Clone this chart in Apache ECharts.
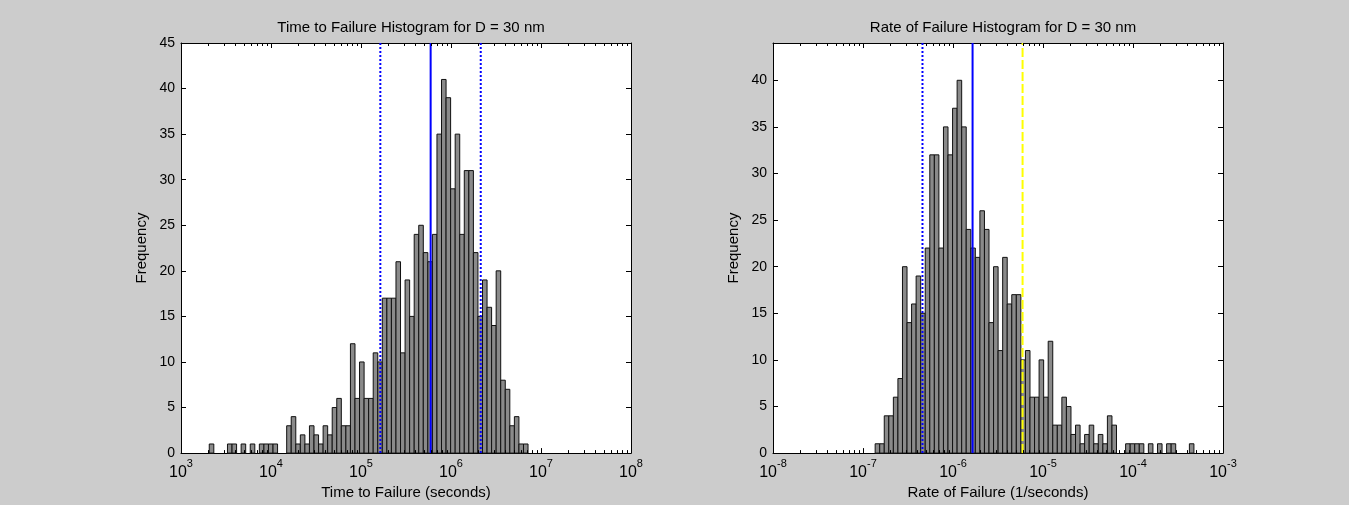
<!DOCTYPE html>
<html lang="en">
<head>
<meta charset="utf-8">
<title>Failure histograms</title>
<script src="https://cdn.jsdelivr.net/npm/echarts@6/dist/echarts.min.js"></script>
<style>
  html, body { margin: 0; padding: 0; background: #cccccc; }
  #chart { width: 1349px; height: 505px; }
</style>
</head>
<body>
<div id="chart"></div>
<script>
// 70 log-spaced bins per histogram, counts
var ttfCounts = [1,0,0,0,1,1,0,1,0,1, 0,1,1,1,1,0,0,3,4,1,
                 2,1,3,2,1,3,2,5,6,3, 3,12,6,10,6,6,11,10,17,17,
                 17,21,11,19,15,24,25,22,21,24, 35,41,39,29,35,24,31,31,22,15,
                 19,16,14,20,8,7,3,4,1,1];
var rofCounts = [1,1,4,4,6,8,20,14,16,19, 15,22,32,32,22,35,32,37,40,35,
                 24,22,21,26,24,14,20,11,21,16, 17,17,10,11,6,6,10,6,12,3,
                 3,6,5,2,3,1,2,3,1,2, 1,4,3,0,0,1,1,1,1,0,
                 1,0,1,0,1,1,0,0,0,1];
// bin layout in log10 units
var ttfBinStart = 3.314;
var rofBinStart = -6.865;
var binWidth = 0.0506;

// reference lines (dotted = bounds, solid = median, dashed yellow = extra)
var ttfLower = 1.64e5, ttfMedian = 5.94e5, ttfUpper = 2.14e6;
var rofLower = 4.58e-7, rofMedian = 1.65e-6, rofMark = 5.93e-6;

// axis ranges (decade exponents)
var ttfDecades = [3, 8];
var rofDecades = [-8, -3];
var ttfYMax = 45;
var rofYMax = 44;

var titles = ['Time to Failure Histogram for D = 30 nm', 'Rate of Failure Histogram for D = 30 nm'];
var xNames = ['Time to Failure (seconds)', 'Rate of Failure (1/seconds)'];
var yName = 'Frequency';

function binData(start, counts) {
  var out = [];
  counts.forEach(function (c, i) {
    if (c > 0) out.push([start + i * binWidth, start + (i + 1) * binWidth, c]);
  });
  return out;
}

function minorTicks(dec, ymax) {
  var out = [];
  for (var d = dec[0]; d < dec[1]; d++) {
    for (var m = 2; m <= 9; m++) out.push([d + Math.log10(m), 0, ymax]);
  }
  return out;
}

function barItem(params, api) {
  var a = api.coord([api.value(0), api.value(2)]);
  var b = api.coord([api.value(1), 0]);
  return {
    type: 'rect',
    shape: { x: a[0], y: a[1], width: b[0] - a[0], height: b[1] - a[1] },
    style: { fill: '#8a8a8a', stroke: '#111', lineWidth: 1 }
  };
}

function minorTickItem(params, api) {
  var lo = api.coord([api.value(0), api.value(1)]);
  var hi = api.coord([api.value(0), api.value(2)]);
  var x = Math.round(lo[0]) + 0.5;
  return {
    type: 'group',
    children: [
      { type: 'line', shape: { x1: x, y1: lo[1], x2: x, y2: lo[1] - 3 }, style: { stroke: '#000', lineWidth: 1 } },
      { type: 'line', shape: { x1: x, y1: hi[1], x2: x, y2: hi[1] + 3 }, style: { stroke: '#000', lineWidth: 1 } }
    ]
  };
}

function vline(idx, v, ymax, color, dash) {
  var x = Math.log10(v);
  return {
    type: 'line', xAxisIndex: idx * 2, yAxisIndex: idx * 2,
    data: [[x, 0], [x, ymax]], symbol: 'none', silent: true, z: 5,
    lineStyle: { color: color, width: 2, type: dash, cap: 'butt' },
    animation: false
  };
}

var expRich = {
  b: { fontSize: 16, color: '#000', fontFamily: 'Liberation Sans', verticalAlign: 'bottom', lineHeight: 22 },
  s: { fontSize: 11, color: '#000', fontFamily: 'Liberation Sans', verticalAlign: 'top', lineHeight: 22 }
};

function xAxes(idx, dec) {
  var base = {
    gridIndex: idx, type: 'value', min: dec[0], max: dec[1], interval: 1,
    axisLine: { show: true, onZero: false, lineStyle: { color: '#000', width: 1 } },
    axisTick: { show: true, inside: true, length: 5, lineStyle: { color: '#000' } },
    splitLine: { show: false }
  };
  return [
    Object.assign({}, base, {
      position: 'bottom',
      name: xNames[idx], nameLocation: 'middle', nameGap: 31,
      nameTextStyle: { fontSize: 15, color: '#000', fontFamily: 'Liberation Sans' },
      axisLabel: {
        margin: 5,
        formatter: function (v) { return '{b|10}{s|' + v + '}'; },
        rich: expRich
      }
    }),
    Object.assign({}, base, { position: 'top', axisLabel: { show: false } })
  ];
}

function yAxes(idx, ymax) {
  var base = {
    gridIndex: idx, type: 'value', min: 0, max: ymax, interval: 5,
    axisLine: { show: true, onZero: false, lineStyle: { color: '#000', width: 1 } },
    axisTick: { show: true, inside: true, length: 5, lineStyle: { color: '#000' } },
    splitLine: { show: false }
  };
  return [
    Object.assign({}, base, {
      position: 'left',
      name: yName, nameLocation: 'middle', nameGap: 32,
      nameTextStyle: { fontSize: 15, color: '#000', fontFamily: 'Liberation Sans' },
      axisLabel: {
        margin: 6, fontSize: 14, color: '#000', fontFamily: 'Liberation Sans',
        formatter: function (v) { return v % 5 === 0 ? String(v) : ''; }
      }
    }),
    Object.assign({}, base, { position: 'right', axisLabel: { show: false } })
  ];
}

var chart = echarts.init(document.getElementById('chart'));

var option = {
  backgroundColor: '#cccccc',
  animation: false,
  title: [0, 1].map(function (i) {
    return {
      text: titles[i], left: i === 0 ? 406 : 998, top: 15, textAlign: 'center',
      textStyle: { fontSize: 15, fontWeight: 'normal', color: '#000', fontFamily: 'Liberation Sans' }
    };
  }),
  grid: [
    { left: 181, top: 43, width: 450, height: 411, show: true, backgroundColor: '#fff', borderWidth: 0 },
    { left: 773, top: 43, width: 450, height: 411, show: true, backgroundColor: '#fff', borderWidth: 0 }
  ],
  xAxis: xAxes(0, ttfDecades).concat(xAxes(1, rofDecades)),
  yAxis: yAxes(0, ttfYMax).concat(yAxes(1, rofYMax)),
  series: [
    { type: 'custom', xAxisIndex: 0, yAxisIndex: 0, renderItem: barItem,
      data: binData(ttfBinStart, ttfCounts), encode: { x: [0, 1], y: 2 }, silent: true, z: 2 },
    { type: 'custom', xAxisIndex: 2, yAxisIndex: 2, renderItem: barItem,
      data: binData(rofBinStart, rofCounts), encode: { x: [0, 1], y: 2 }, silent: true, z: 2 },
    { type: 'custom', xAxisIndex: 0, yAxisIndex: 0, renderItem: minorTickItem,
      data: minorTicks(ttfDecades, ttfYMax), encode: { x: 0, y: [1, 2] }, silent: true, z: 6 },
    { type: 'custom', xAxisIndex: 2, yAxisIndex: 2, renderItem: minorTickItem,
      data: minorTicks(rofDecades, rofYMax), encode: { x: 0, y: [1, 2] }, silent: true, z: 6 },
    vline(0, ttfLower, ttfYMax, '#0000ff', [2, 2]),
    vline(0, ttfMedian, ttfYMax, '#0000ff', 'solid'),
    vline(0, ttfUpper, ttfYMax, '#0000ff', [2, 2]),
    vline(1, rofLower, rofYMax, '#0000ff', [2, 2]),
    vline(1, rofMedian, rofYMax, '#0000ff', 'solid'),
    vline(1, rofMark, rofYMax, '#ffff00', [9, 3])
  ]
};

chart.setOption(option);
</script>
</body>
</html>
